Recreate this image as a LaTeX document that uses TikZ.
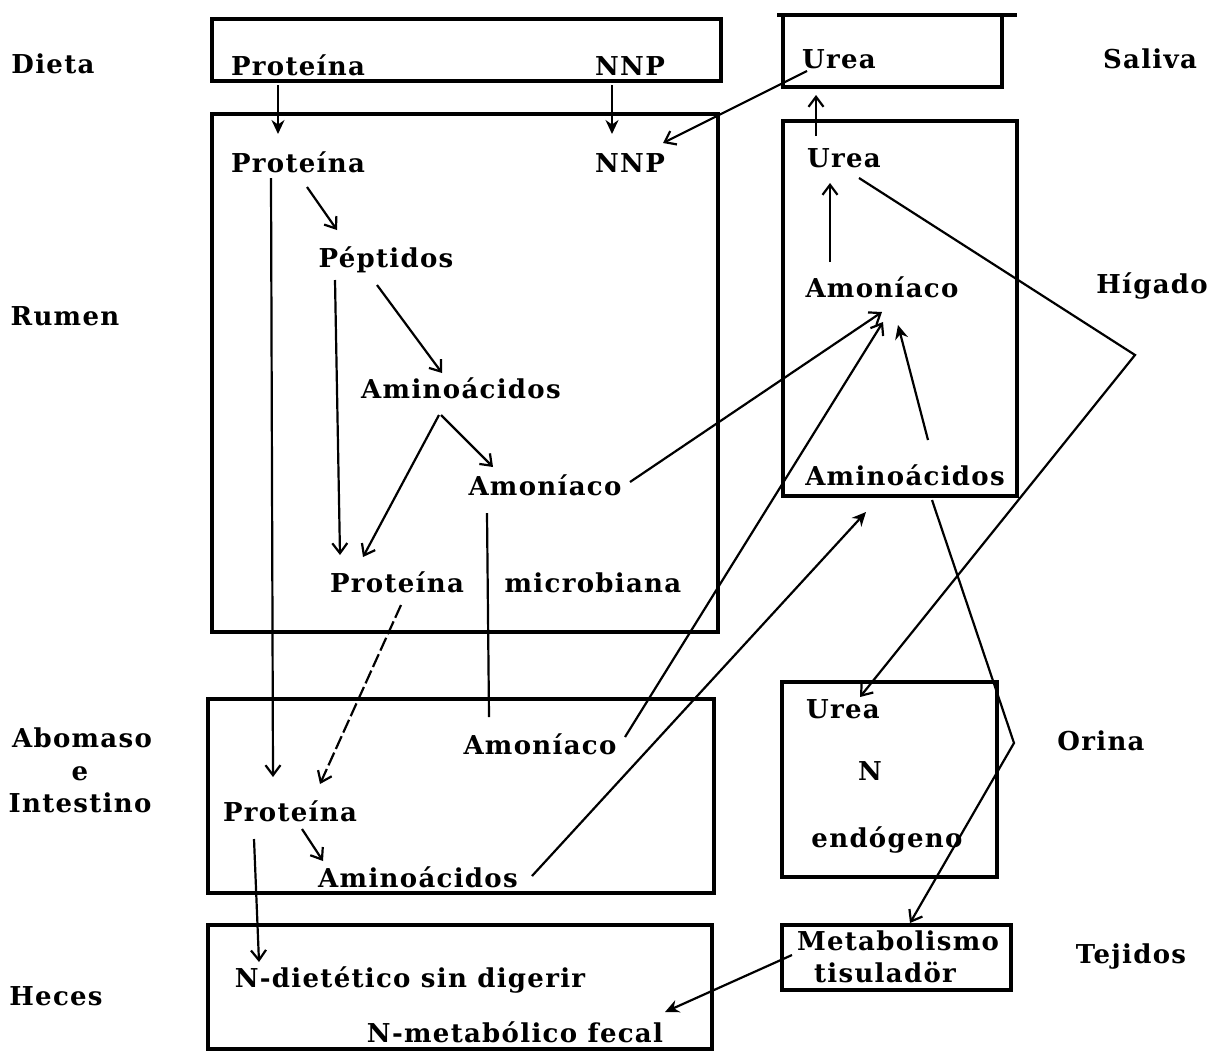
\documentclass[tikz,border=0pt]{standalone}
\usepackage{fontspec}
\newfontfamily\diafont{DejaVu Serif}[LetterSpace=5]
\usetikzlibrary{arrows.meta}
\begin{document}
\begin{tikzpicture}[x=1pt,y=-1pt,
  lbl/.style={anchor=base, inner sep=0pt, font=\diafont\bfseries\fontsize{26}{30}\selectfont},
  boxline/.style={line width=3.2pt},
  conn/.style={line width=2.2pt},
  arr/.style={conn, -{Straight Barb[length=10pt,width=15pt,line width=2.2pt]}},
  farr/.style={conn, -{Stealth[length=14pt,width=13pt]}},
  dashconn/.style={arr, dash pattern=on 14pt off 4pt}]
\useasboundingbox (0,0) rectangle (1212,1053);
\fill[white] (0,0) rectangle (1212,1053);

% boxes
\draw[boxline] (212,19) rectangle (721,81);
\draw[boxline] (212,114) rectangle (718,632);
\draw[boxline] (208,699) rectangle (714,893);
\draw[boxline] (208,925) rectangle (712,1049);
\draw[boxline] (783,15) rectangle (1002,87);
\draw[line width=4pt] (777,15) -- (1017,15);
\draw[boxline] (783,121) rectangle (1017,496);
\draw[boxline] (782,682) rectangle (997,877);
\draw[boxline] (782,925) rectangle (1011,990);

% side labels
\node[lbl] (dieta) at (53,73) {Dieta};
\node[lbl] (rumen) at (65,325) {Rumen};
\node[lbl] (abomaso) at (82,747) {Abomaso};
\node[lbl] (e) at (80,780) {e};
\node[lbl] (intestino) at (80,812) {Intestino};
\node[lbl] (heces) at (56,1005) {Heces};
\node[lbl] (saliva) at (1150,68) {Saliva};
\node[lbl] (higado) at (1152,293) {Hígado};
\node[lbl] (orina) at (1101,750) {Orina};
\node[lbl] (tejidos) at (1131,963) {Tejidos};

% inner texts
\node[lbl] (protD) at (298,75) {Proteína};
\node[lbl] (nnpD) at (630,75) {NNP};
\node[lbl] (protR) at (298,172) {Proteína};
\node[lbl] (nnpR) at (630,172) {NNP};
\node[lbl] (pep) at (386,267) {Péptidos};
\node[lbl] (aminoR) at (461,398) {Aminoácidos};
\node[lbl] (amonR) at (545,495) {Amoníaco};
\node[lbl] (protM) at (397,592) {Proteína};
\node[lbl] (micro) at (593,592) {microbiana};
\node[lbl] (amonA) at (540,754) {Amoníaco};
\node[lbl] (protA) at (290,821) {Proteína};
\node[lbl] (aminoA) at (418,887) {Aminoácidos};
\node[lbl] (ndiet) at (410,987) {N-dietético sin digerir};
\node[lbl] (nmet) at (515,1042) {N-metabólico fecal};
\node[lbl] (ureaS) at (839,68) {Urea};
\node[lbl] (ureaH) at (844,167) {Urea};
\node[lbl] (amonH) at (882,297) {Amoníaco};
\node[lbl] (aminoH) at (905,485) {Aminoácidos};
\node[lbl] (ureaO) at (843,718) {Urea};
\node[lbl] (nN) at (870,780) {N};
\node[lbl] (endo) at (887,847) {endógeno};
\node[lbl] (metab) at (898,950) {Metabolismo};
\node[lbl] (tisu) at (885,982) {tisuladör};

\coordinate (jH) at (1135,355);
\coordinate (jO) at (1014,743);

% connectors
\draw[farr] ([shift={(-20,10)}]protD.base) -- ([shift={(-20,-38)}]protR.base);
\draw[farr] ([shift={(-18,10)}]nnpD.base) -- ([shift={(-18,-38)}]nnpR.base);
\draw[arr] ([shift={(-32,3)}]ureaS.base) -- ([shift={(33,-29)}]nnpR.base);
\draw[arr] ([shift={(9,15)}]protR.base) -- ([shift={(-49,-37)}]pep.base);
\draw[arr] ([shift={(-27,6)}]protR.base) -- ([shift={(-17,-44)}]protA.base);
\draw[arr] ([shift={(-51,13)}]pep.base) -- ([shift={(-57,-37)}]protM.base);
\draw[arr] ([shift={(-9,18)}]pep.base) -- ([shift={(-19,-25)}]aminoR.base);
\draw[arr] ([shift={(-22,17)}]aminoR.base) -- ([shift={(-34,-35)}]protM.base);
\draw[arr] ([shift={(-20,17)}]aminoR.base) -- ([shift={(-52,-28)}]amonR.base);
\draw[arr] ([shift={(85,-13)}]amonR.base) -- ([shift={(0,15)}]amonH.base);
\draw[conn] ([shift={(-58,18)}]amonR.base) -- ([shift={(-51,-37)}]amonA.base);
\draw[dashconn] ([shift={(4,13)}]protM.base) -- ([shift={(30,-37)}]protA.base);
\draw[arr] ([shift={(85,-17)}]amonA.base) -- ([shift={(1,25)}]amonH.base);
\draw[farr] ([shift={(114,-11)}]aminoA.base) -- ([shift={(-39,27)}]aminoH.base);
\draw[farr] ([shift={(23,-45)}]aminoH.base) -- ([shift={(16,28)}]amonH.base);
\draw[arr] ([shift={(-52,-35)}]amonH.base) -- ([shift={(-14,16)}]ureaH.base);
\draw[arr] ([shift={(-28,-31)}]ureaH.base) -- ([shift={(-23,27)}]ureaS.base);
\draw[arr] ([shift={(15,11)}]ureaH.base) -- (jH) -- ([shift={(17,-21)}]ureaO.base);
\draw[arr] ([shift={(27,15)}]aminoH.base) -- (jO) -- ([shift={(12,-27)}]metab.base);
\draw[farr] ([shift={(-106,5)}]metab.base) -- ([shift={(150,-30)}]nmet.base);
\draw[arr] ([shift={(12,8)}]protA.base) -- ([shift={(-95,-26)}]aminoA.base);
\draw[arr] ([shift={(-36,18)}]protA.base) -- ([shift={(-151,-25)}]ndiet.base);
\end{tikzpicture}
\end{document}
